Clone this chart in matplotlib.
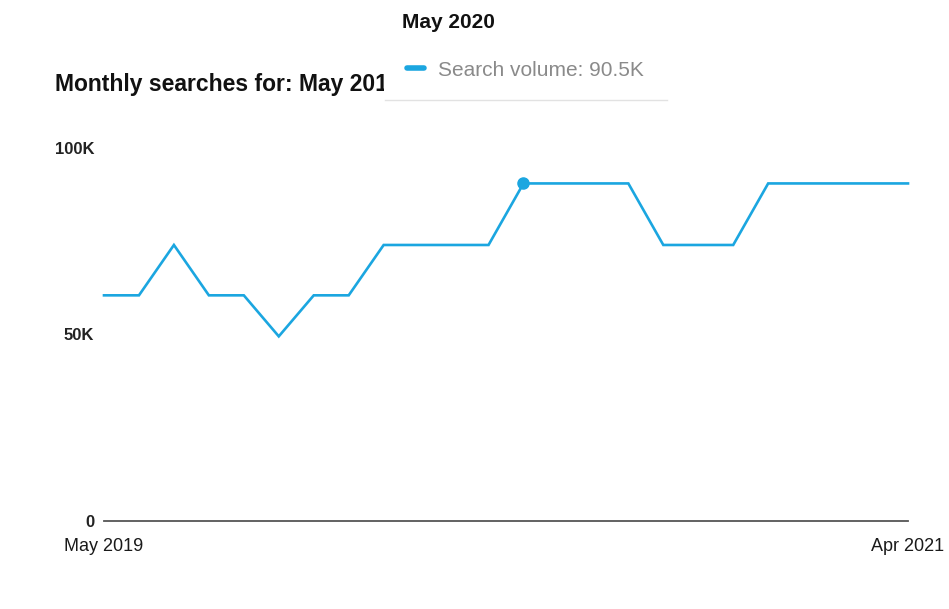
import matplotlib.pyplot as plt
from matplotlib.patches import Rectangle
from matplotlib.lines import Line2D
from matplotlib.transforms import Bbox

# Monthly search volume, May 2019 .. Apr 2021
months = ['May 2019', 'Jun 2019', 'Jul 2019', 'Aug 2019', 'Sep 2019', 'Oct 2019',
          'Nov 2019', 'Dec 2019', 'Jan 2020', 'Feb 2020', 'Mar 2020', 'Apr 2020',
          'May 2020', 'Jun 2020', 'Jul 2020', 'Aug 2020', 'Sep 2020', 'Oct 2020',
          'Nov 2020', 'Dec 2020', 'Jan 2021', 'Feb 2021', 'Mar 2021', 'Apr 2021']
volume = [60500, 60500, 74000, 60500, 60500, 49500, 60500, 60500, 74000, 74000,
          74000, 74000, 90500, 90500, 90500, 90500, 74000, 74000, 74000, 90500,
          90500, 90500, 90500, 90500]
ytick_vals = [0, 50000, 100000]
ytick_labels = ['0', '50K', '100K']
hover_idx = 12

fonts = ['Liberation Sans Narrow', 'Liberation Sans', 'DejaVu Sans']
blue = '#1ba6e0'

fig = plt.figure(figsize=(9.49, 6.09), dpi=100)
W, H = 949, 609
ax = fig.add_axes([104 / W, 1 - 521 / H, (908 - 104) / W, (521 - 148) / H])

x = list(range(len(months)))
ax.plot(x, volume, color=blue, lw=1.9, solid_joinstyle='miter', clip_on=False)
ax.plot([hover_idx], [volume[hover_idx]], 'o', color=blue, ms=8, clip_on=False)

ax.set_xlim(0, len(months) - 1)
ax.set_ylim(0, 100000)
for s in ['top', 'right', 'left']:
    ax.spines[s].set_visible(False)
ax.spines['bottom'].set_color('#555555')
ax.spines['bottom'].set_linewidth(1.3)

ax.set_yticks(ytick_vals)
ax.set_yticklabels(ytick_labels, family=fonts, fontsize=12, fontweight='bold',
                   color='#222222')
ax.set_xticks([0, len(months) - 1])
ax.set_xticklabels([months[0], months[-1]], family=fonts, fontsize=13,
                   color='#1a1a1a')
ax.tick_params(axis='y', length=0, pad=7)
ax.tick_params(axis='x', length=0, pad=12)
ax.get_xticklabels()[0].set_x(-0.25)

# chart title (partly hidden by the hover tooltip, clipped at its edge)
title = fig.text(55 / W, 1 - 84 / H, 'Monthly searches for: May 2019 \u2013 Apr 2021',
                 family=fonts, fontsize=16.5, fontweight='bold', color='#111111',
                 va='center', ha='left')
title.set_clip_box(Bbox.from_extents(0, 0, 384, H))
title.set_clip_on(True)

# tooltip box
fig.patches.append(Rectangle((385 / W, 1 - 100 / H), 282 / W, 100 / H,
                             transform=fig.transFigure, facecolor='white',
                             edgecolor='none', zorder=5))
fig.lines.append(Line2D([385 / W, 667 / W], [1 - 100 / H, 1 - 100 / H],
                        transform=fig.transFigure, color='#e2e2e2', lw=1,
                        zorder=6))
fig.text(402 / W, 1 - 22 / H, months[hover_idx], family=fonts, fontsize=15,
         fontweight='bold', color='#111111', va='center', ha='left', zorder=7)
fig.lines.append(Line2D([407 / W, 424 / W], [1 - 68 / H, 1 - 68 / H],
                        transform=fig.transFigure, color=blue, lw=4,
                        solid_capstyle='round', zorder=7))
fig.text(438 / W, 1 - 70 / H, 'Search volume: %.1fK' % (volume[hover_idx] / 1000),
         family=fonts, fontsize=15, color='#8a8a8a', va='center', ha='left',
         zorder=7)

fig.savefig('out.png', dpi=100)
